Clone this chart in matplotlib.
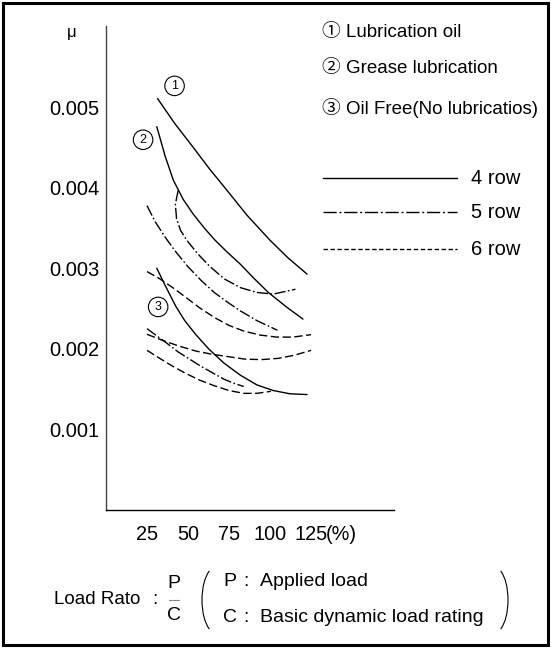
import numpy as np
import matplotlib
matplotlib.use('Agg')
import matplotlib.pyplot as plt
from matplotlib.lines import Line2D
from matplotlib.patches import Arc, Rectangle
from matplotlib.transforms import blended_transform_factory

# load ratio P/C (%) vs friction coefficient (values in units of 0.001)
# 1: lubrication oil, 2: grease lubrication, 3: oil free
oil_4row_x = [31.5, 42, 53, 63, 73, 86, 100, 111, 122.5]
oil_4row_y = [5.11, 4.80, 4.51, 4.24, 3.99, 3.66, 3.35, 3.13, 2.93]
oil_5row_x = [44, 42.3, 43, 45.5, 50, 56, 63, 72, 82, 92, 102, 115.5]
oil_5row_y = [3.97, 3.80, 3.62, 3.47, 3.33, 3.18, 3.03, 2.87, 2.76, 2.70, 2.68, 2.74]
oil_6row_x = [25, 32, 40, 48, 57, 66, 75, 84, 94, 104, 114, 125]
oil_6row_y = [2.96, 2.88, 2.77, 2.65, 2.51, 2.39, 2.29, 2.22, 2.17, 2.145, 2.145, 2.175]

grease_4row_x = [31, 36, 41, 47, 53, 60, 66.5, 74, 82, 90, 99, 110, 120]
grease_4row_y = [4.76, 4.40, 4.10, 3.86, 3.68, 3.50, 3.35, 3.20, 3.05, 2.88, 2.70, 2.52, 2.37]
grease_5row_x = [25, 30, 36, 42, 50, 58, 66, 74, 82, 92, 104.5]
grease_5row_y = [3.78, 3.58, 3.39, 3.22, 3.02, 2.85, 2.70, 2.58, 2.47, 2.35, 2.23]
grease_6row_x = [25, 35, 45, 55, 65, 75, 85, 95, 105, 115, 125]
grease_6row_y = [2.18, 2.10, 2.03, 1.97, 1.93, 1.90, 1.87, 1.865, 1.88, 1.92, 1.98]

free_4row_x = [31, 36, 42.5, 48, 55, 63, 72, 82, 92, 102, 112, 122.5]
free_4row_y = [3.00, 2.79, 2.53, 2.35, 2.17, 1.99, 1.82, 1.67, 1.55, 1.48, 1.44, 1.43]
free_5row_x = [25, 31, 37, 44, 51, 58, 65, 72, 78, 84]
free_5row_y = [2.25, 2.16, 2.07, 1.96, 1.87, 1.78, 1.70, 1.62, 1.57, 1.53]
free_6row_x = [25, 32, 40, 48, 57, 66, 75, 84, 92, 100.5]
free_6row_y = [1.98, 1.89, 1.79, 1.70, 1.61, 1.54, 1.48, 1.445, 1.445, 1.47]

x_ticks = [25, 50, 75, 100, 125]
x_ticklabels = ['25', '50', '75', '100', '125']
y_ticks = [0.001, 0.002, 0.003, 0.004, 0.005]
y_ticklabels = ['0.001', '0.002', '0.003', '0.004', '0.005']

lube_labels = ['\u2460 Lubrication oil', '\u2461 Grease lubrication', '\u2462 Oil Free(No lubricatios)']
row_labels = ['4 row', '5 row', '6 row']

FONT = ['Liberation Sans', 'Noto Sans CJK JP', 'DejaVu Sans']

W, H = 551, 648
def fx(px):
    return px / W
def fy(py):
    return 1 - py / H

solid = '-'
dashdot = (0, (8, 1.8, 1.2, 1.8))
dashed = (0, (6, 2.5))

fig = plt.figure(figsize=(W / 100, H / 100), dpi=100)
ax = fig.add_axes([fx(106), fy(509.5), fx(394) - fx(106), fy(25.6) - fy(509.5)])

curves = [
    (oil_4row_x, oil_4row_y, solid), (oil_5row_x, oil_5row_y, dashdot), (oil_6row_x, oil_6row_y, dashed),
    (grease_4row_x, grease_4row_y, solid), (grease_5row_x, grease_5row_y, dashdot), (grease_6row_x, grease_6row_y, dashed),
    (free_4row_x, free_4row_y, solid), (free_5row_x, free_5row_y, dashdot), (free_6row_x, free_6row_y, dashed),
]
for xs, ys, ls in curves:
    ax.plot(xs, np.array(ys) * 1e-3, color='black', lw=1.0, linestyle=ls)

ax.set_xlim(0, 175.6)
ax.set_ylim(0, 0.00602)
ax.set_xticks(x_ticks)
ax.set_xticklabels(x_ticklabels, fontfamily=FONT, fontsize=14.3)
ax.set_yticks(y_ticks)
ax.set_yticklabels(y_ticklabels, fontfamily=FONT, fontsize=14.5)
ax.tick_params(axis='both', length=0)
ax.tick_params(axis='y', pad=5)
ax.tick_params(axis='x', pad=11)
for s in ['top', 'right']:
    ax.spines[s].set_visible(False)
ax.spines['left'].set_color('#444444')
ax.spines['left'].set_linewidth(1.0)
ax.spines['bottom'].set_linewidth(1.0)

# "(%)" after the last tick label
trans = blended_transform_factory(ax.transData, fig.transFigure)
ax.text(134, fy(535), '(%)', transform=trans, ha='left', va='center',
        fontfamily=FONT, fontsize=14.3)

# circled curve numbers
circ = dict(boxstyle='circle,pad=0.3', fc='white', ec='black', lw=0.8)
ax.text(41.8, 5.27e-3, '1', ha='center', va='center', fontsize=9, fontfamily=FONT, bbox=circ)
ax.text(22.6, 4.60e-3, '2', ha='center', va='center', fontsize=9, fontfamily=FONT, bbox=circ)
ax.text(31.8, 2.52e-3, '3', ha='center', va='center', fontsize=9, fontfamily=FONT, bbox=circ)

fig.text(fx(72), fy(32), '\u03bc', ha='center', va='center', fontsize=12, fontfamily=FONT)

# lubrication legend
for i, lab in enumerate(lube_labels):
    fig.text(fx(322), fy([32, 69, 108][i]), lab, ha='left', va='center',
             fontsize=13.5, fontfamily=FONT)

# row legend
for i, (lab, ls) in enumerate(zip(row_labels, [solid, (0, (9.5, 2, 1.4, 2)), (0, (3.2, 1.8))])):
    yy = [178, 212, 249][i]
    fig.add_artist(Line2D([fx(323), fx(457)], [fy(yy), fy(yy)], color='black',
                          lw=1.0, linestyle=ls, transform=fig.transFigure))
    fig.text(fx(471), fy(yy + 1), lab, ha='left', va='center', fontsize=14.5, fontfamily=FONT)

# bottom note
fig.text(fx(54.5), fy(600), 'Load Rato', ha='left', va='center', fontsize=13.5, fontfamily=FONT)
fig.text(fx(154.6), fy(600), ':', ha='center', va='center', fontsize=14, fontfamily=FONT)
fig.text(fx(174), fy(584), 'P', ha='center', va='center', fontsize=14, fontfamily=FONT)
fig.text(fx(174), fy(616), 'C', ha='center', va='center', fontsize=14, fontfamily=FONT)
fig.add_artist(Line2D([fx(169), fx(179)], [fy(600), fy(600)], color='#888888', lw=0.8,
                      transform=fig.transFigure))
fig.add_artist(Arc((fx(216), fy(600)), fx(28), 66 / H, theta1=105, theta2=255,
                   color='black', lw=0.8, transform=fig.transFigure))
fig.add_artist(Arc((fx(494), fy(600)), fx(28), 66 / H, theta1=-75, theta2=75,
                   color='black', lw=0.8, transform=fig.transFigure))
for yy, a, b in [(582, 'P', 'Applied load'), (617, 'C', 'Basic dynamic load rating')]:
    fig.text(fx(223), fy(yy), a, ha='left', va='center', fontsize=14, fontfamily=FONT)
    fig.text(fx(246), fy(yy), ':', ha='center', va='center', fontsize=14, fontfamily=FONT)
    fig.text(fx(260), fy(yy), b, ha='left', va='center', fontsize=14, fontfamily=FONT)

# outer frame
fig.add_artist(Rectangle((fx(3), fy(645)), fx(545), 642 / H, fill=False, ec='black', lw=2.2,
                         transform=fig.transFigure))

fig.savefig('out.png', dpi=100)
